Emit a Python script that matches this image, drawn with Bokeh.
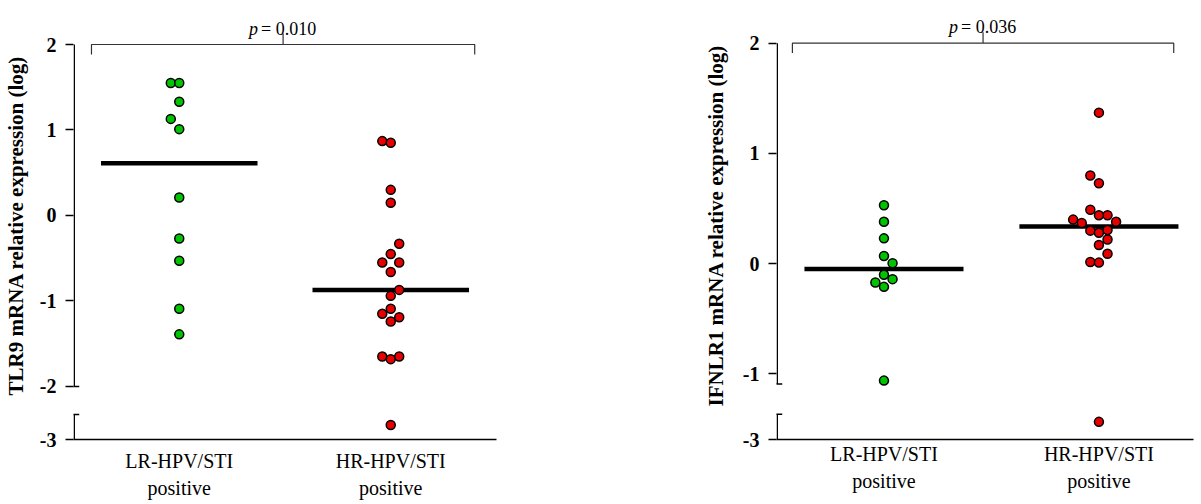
import numpy as np
from bokeh.plotting import figure
from bokeh.layouts import row
from bokeh.models import Range1d, FixedTicker, ColumnDataSource
from bokeh.core.properties import value
from bokeh.embed import file_html
from bokeh.resources import INLINE

# ---------------- data ----------------
categories = ["LR-HPV/STI\npositive", "HR-HPV/STI\npositive"]

tlr9_lr = [1.55, 1.55, 1.33, 1.13, 1.01, 0.21, -0.27, -0.53, -1.09, -1.39]
tlr9_lr_slot = [-1, 0, 0, -1, 0, 0, 0, 0, 0, 0]
tlr9_hr = [0.87, 0.85, 0.30, 0.15, -0.33, -0.45, -0.55, -0.55, -0.66, -0.87,
           -0.94, -1.09, -1.15, -1.19, -1.24, -1.65, -1.68, -1.65, -2.83]
tlr9_hr_slot = [-1, 0, 0, 0, 1, 0, 1, -1, 0, 1, 0, 0, -1, 1, 0, -1, 0, 1, 0]

ifnlr1_lr = [0.53, 0.38, 0.23, 0.07, 0.005, -0.10, -0.14, -0.17, -0.21, -1.06]
ifnlr1_lr_slot = [0, 0, 0, 0, 1, 0, 1, -1, 0, 0]
ifnlr1_hr = [1.37, 0.80, 0.73, 0.49, 0.44, 0.44, 0.40, 0.38, 0.37, 0.305,
             0.30, 0.28, 0.22, 0.17, 0.09, 0.015, 0.01, -2.84]
ifnlr1_hr_slot = [0, -1, 0, -1, 1, 0, -3, 2, -2, 1, -1, 0, 1, 0, 1, -1, 0, 0]

tlr9_ticks = [2, 1, 0, -1, -2, -3]
ifnlr1_ticks = [2, 1, 0, -1, -3]

tlr9_label = "TLR9 mRNA relative expression (log)"
ifnlr1_label = "IFNLR1 mRNA relative expression (log)"
tlr9_p = "0.010"
ifnlr1_p = "0.036"

# ---------------- style ----------------
FONT = "Liberation Serif"
GREEN = "#00c400"
RED = "#e60000"
SLOT = 0.04
HALF = 0.37
H = 504
BT = 11


def make_panel(lr, lr_slot, hr, hr_slot, ylabel, ptxt, ticks, cfg):
    brk, off = cfg["brk"], cfg["offset"]

    def tf(v):
        return v if v >= brk else v + off

    y0 = tf(-3.0)
    y1 = cfg["y_top"]
    p = figure(width=cfg["width"], height=H,
               x_range=Range1d(0.5, cfg["x_end"]), y_range=Range1d(y0, y1),
               output_backend="svg", toolbar_location=None,
               min_border_left=cfg["bl"], min_border_right=cfg["br"],
               min_border_top=BT, min_border_bottom=cfg["bb"])
    p.outline_line_color = None
    p.xgrid.visible = False
    p.ygrid.visible = False
    p.background_fill_color = "white"
    p.border_fill_color = "white"

    fw = cfg["width"] - cfg["bl"] - cfg["br"]
    fh = H - BT - cfg["bb"]
    sx = fw / (cfg["x_end"] - 0.5)
    sy = fh / (y1 - y0)

    # y axis
    yt = [round(tf(v), 4) for v in ticks]
    p.yaxis.ticker = FixedTicker(ticks=yt)
    p.yaxis.major_label_overrides = {t: str(v) for t, v in zip(yt, ticks)}
    p.yaxis.axis_line_color = None
    p.yaxis.major_tick_out = 8
    p.yaxis.major_tick_in = 0
    p.yaxis.major_tick_line_width = 1.5
    p.yaxis.major_tick_line_color = "black"
    p.yaxis.minor_tick_line_color = None
    p.yaxis.major_label_text_font = FONT
    p.yaxis.major_label_text_font_style = "bold"
    p.yaxis.major_label_text_font_size = "20px"
    p.yaxis.major_label_text_color = "black"
    p.yaxis.major_label_standoff = 9
    p.yaxis.axis_label = ylabel
    p.yaxis.axis_label_text_font = FONT
    p.yaxis.axis_label_text_font_style = "bold"
    p.yaxis.axis_label_text_font_size = "21px"
    p.yaxis.axis_label_text_color = "black"
    p.yaxis.axis_label_standoff = cfg["yls"]

    # x axis
    p.xaxis.ticker = FixedTicker(ticks=[1, 2])
    p.xaxis.major_label_overrides = {1: categories[0], 2: categories[1]}
    p.xaxis.major_tick_line_color = None
    p.xaxis.minor_tick_line_color = None
    p.xaxis.axis_line_width = 1.5
    p.xaxis.axis_line_color = "black"
    p.xaxis.major_label_text_font = FONT
    p.xaxis.major_label_text_font_size = "20px"
    p.xaxis.major_label_text_line_height = 1.25
    p.xaxis.major_label_text_color = "black"
    p.xaxis.major_label_standoff = cfg["xls"]

    # broken y axis line
    ax = 0.5 + 0.75 / sx
    ub = tf(cfg["upper_bottom"])
    lt = tf(cfg["lower_top"])
    p.segment(x0=[ax, ax], y0=[2.0, lt], x1=[ax, ax], y1=[ub, y0],
              line_color="black", line_width=1.5)
    p.scatter(x=[ax, ax], y=[ub, lt], marker="dash", size=10,
              line_color="black", line_width=1.5)

    # medians
    m1 = tf(float(np.median(lr)))
    m2 = tf(float(np.median(hr)))
    p.segment(x0=[1 - HALF, 2 - HALF], y0=[m1, m2], x1=[1 + HALF, 2 + HALF], y1=[m1, m2],
              line_color="black", line_width=4.5)

    # points
    for vals, slots, col, cx in ((lr, lr_slot, GREEN, 1), (hr, hr_slot, RED, 2)):
        src = ColumnDataSource(dict(x=[cx + s * SLOT for s in slots],
                                    y=[tf(v) for v in vals]))
        p.scatter("x", "y", source=src, size=9, fill_color=col,
                  line_color="black", line_width=1.5)

    # significance bracket
    bx0, bx1 = cfg["bx0"], cfg["bx1"]
    xm = (bx0 + bx1) / 2
    d = 10 / sy
    n = 11 / sy
    by = 2.0
    p.line(x=[bx0, bx0, xm, xm, xm, bx1, bx1],
           y=[by - d, by, by, by + n, by, by, by - d],
           line_color="#333333", line_width=1.2)
    p.text(x=[xm], y=[by], text=["p"], text_font=value(FONT),
           text_font_style="italic", text_font_size="18px", text_color="black",
           text_align="right", text_baseline="alphabetic", x_offset=-25, y_offset=-16)
    p.text(x=[xm], y=[by], text=["= " + ptxt], text_font=value(FONT),
           text_font_size="18px", text_color="black",
           text_align="left", text_baseline="alphabetic", x_offset=-22, y_offset=-16)
    return p


left_cfg = dict(width=700, bl=68, br=204, bb=65, x_end=2.5, y_top=2.386,
                brk=-2.0, offset=0.38, upper_bottom=-2.0, lower_top=-2.707,
                bx0=0.585, bx1=2.397, yls=9, xls=4)
right_cfg = dict(width=500, bl=72, br=7, bb=61, x_end=2.44, y_top=2.287,
                 brk=-1.5, offset=1.406, upper_bottom=-1.09, lower_top=-2.77,
                 bx0=0.574, bx1=2.348, yls=12, xls=-3)

p1 = make_panel(tlr9_lr, tlr9_lr_slot, tlr9_hr, tlr9_hr_slot, tlr9_label, tlr9_p,
                tlr9_ticks, left_cfg)
p2 = make_panel(ifnlr1_lr, ifnlr1_lr_slot, ifnlr1_hr, ifnlr1_hr_slot, ifnlr1_label, ifnlr1_p,
                ifnlr1_ticks, right_cfg)

layout = row(p1, p2)
open("out.html", "w").write(file_html(layout, INLINE))
